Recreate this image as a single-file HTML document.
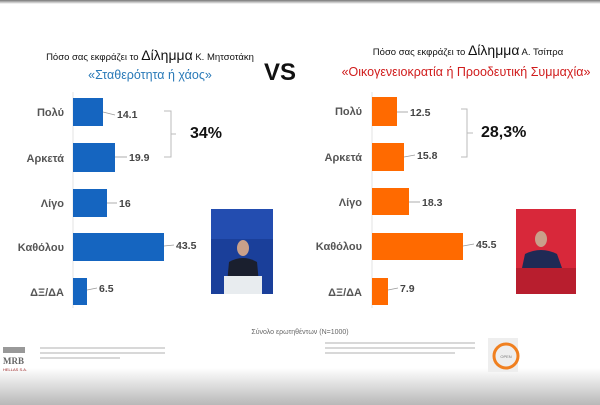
<!DOCTYPE html>
<html><head><meta charset="utf-8"><style>
html,body{margin:0;padding:0;background:#fff;}
body{width:600px;height:405px;overflow:hidden;position:relative;font-family:"Liberation Sans","DejaVu Sans",sans-serif;}
svg{position:absolute;left:0;top:0}
</style></head><body>
<svg width="600" height="405" viewBox="0 0 600 405" font-family="Liberation Sans, DejaVu Sans, sans-serif">
<defs>
<linearGradient id="bg" x1="0" y1="0" x2="0" y2="1">
<stop offset="0" stop-color="#ffffff"/><stop offset="1" stop-color="#b8b8b8"/></linearGradient>
<linearGradient id="top" x1="0" y1="0" x2="0" y2="1">
<stop offset="0" stop-color="#777"/><stop offset="1" stop-color="#fff"/></linearGradient>
</defs>
<rect x="0" y="0" width="600" height="4" fill="url(#top)"/>
<rect x="0" y="368" width="600" height="37" fill="url(#bg)"/>

<!-- Left titles -->
<text x="150" y="60" font-size="9.5" text-anchor="middle" fill="#111">Πόσο σας εκφράζει το <tspan font-size="14">Δίλημμα</tspan> Κ. Μητσοτάκη</text>
<text x="150" y="79" font-size="12.5" text-anchor="middle" fill="#2a7ab8">«Σταθερότητα ή χάος»</text>
<text x="280" y="80" font-size="24" font-weight="bold" text-anchor="middle" fill="#111">VS</text>
<!-- Right titles -->
<text x="468" y="55" font-size="9.5" text-anchor="middle" fill="#111">Πόσο σας εκφράζει το <tspan font-size="14">Δίλημμα</tspan> Α. Τσίπρα</text>
<text x="466" y="76" font-size="12.5" text-anchor="middle" fill="#d01c1c">«Οικογενειοκρατία ή Προοδευτική Συμμαχία»</text>

<g font-size="11" font-weight="bold" fill="#555" text-anchor="end">
<text x="64" y="116">Πολύ</text><text x="64" y="162">Αρκετά</text><text x="64" y="207">Λίγο</text><text x="64" y="251">Καθόλου</text><text x="64" y="296">ΔΞ/ΔΑ</text>
<text x="362" y="115">Πολύ</text><text x="362" y="161">Αρκετά</text><text x="362" y="206">Λίγο</text><text x="362" y="250">Καθόλου</text><text x="362" y="296">ΔΞ/ΔΑ</text>
</g>
<line x1="73" y1="92" x2="73" y2="308" stroke="#e3e3e3"/>
<line x1="372" y1="92" x2="372" y2="308" stroke="#e3e3e3"/>
<g fill="#1565c0">
<rect x="73" y="98" width="30" height="28"/><rect x="73" y="143" width="42" height="29"/><rect x="73" y="189" width="34" height="28"/><rect x="73" y="233" width="91" height="28"/><rect x="73" y="278" width="14" height="27"/>
</g>
<g fill="#ff6a00">
<rect x="372" y="97" width="25" height="29"/><rect x="372" y="143" width="32" height="28"/><rect x="372" y="188" width="37" height="27"/><rect x="372" y="233" width="91" height="27"/><rect x="372" y="278" width="16" height="27"/>
</g>
<g stroke="#999" stroke-width="0.8">
<line x1="103" y1="112" x2="115" y2="115"/><line x1="115" y1="157" x2="127" y2="157"/><line x1="107" y1="203" x2="117" y2="203"/><line x1="164" y1="246" x2="174" y2="245"/><line x1="87" y1="290" x2="97" y2="288"/>
<line x1="397" y1="112" x2="408" y2="112"/><line x1="404" y1="157" x2="415" y2="155"/><line x1="409" y1="202" x2="420" y2="202"/><line x1="463" y1="246" x2="474" y2="244"/><line x1="388" y1="290" x2="398" y2="288"/>
</g>
<g font-size="10.5" font-weight="bold" fill="#444">
<text x="117" y="118">14.1</text><text x="129" y="161">19.9</text><text x="119" y="207">16</text><text x="176" y="249">43.5</text><text x="99" y="292">6.5</text>
<text x="410" y="116">12.5</text><text x="417" y="159">15.8</text><text x="422" y="206">18.3</text><text x="476" y="248">45.5</text><text x="400" y="292">7.9</text>
</g>
<path d="M164 111 H171 V157 H164 M171 134 H176" fill="none" stroke="#bbb"/>
<path d="M461 109 H467 V157 H461 M467 133 H473" fill="none" stroke="#bbb"/>
<text x="190" y="138" font-size="16" font-weight="bold" fill="#111">34%</text>
<text x="481" y="137" font-size="16" font-weight="bold" fill="#111">28,3%</text>

<!-- left photo -->
<rect x="211" y="209" width="62" height="85" fill="#1a3f9a"/>
<rect x="211" y="209" width="62" height="30" fill="#2a56c0" opacity="0.6"/>
<ellipse cx="243" cy="248" rx="6" ry="8" fill="#c9a08a"/>
<path d="M226 294 L229 262 Q243 254 257 262 L260 294Z" fill="#1a1f2e"/>
<rect x="224" y="276" width="38" height="18" fill="#e8ecef"/>
<!-- right photo -->
<rect x="516" y="209" width="60" height="85" fill="#d8283a"/>
<ellipse cx="541" cy="239" rx="6" ry="8" fill="#c9a08a"/>
<path d="M522 268 L525 254 Q541 246 557 254 L562 268Z" fill="#1f2a55"/>
<rect x="516" y="268" width="60" height="26" fill="#b81e2e"/>

<text x="300" y="334" font-size="7" text-anchor="middle" fill="#666">Σύνολο ερωτηθέντων (Ν=1000)</text>
<!-- MRB logo -->
<rect x="3" y="347" width="22" height="6" fill="#999"/>
<text x="3" y="364" font-size="9" font-weight="bold" fill="#666" font-family="Liberation Serif, serif">MRB</text>
<text x="3" y="371" font-size="4" fill="#922">HELLAS S.A.</text>
<g stroke="#ccc" stroke-width="1.5">
<line x1="40" y1="348" x2="165" y2="348"/><line x1="40" y1="353" x2="165" y2="353"/><line x1="40" y1="358" x2="120" y2="358"/>
<line x1="325" y1="343" x2="475" y2="343"/><line x1="325" y1="348" x2="475" y2="348"/><line x1="325" y1="353" x2="455" y2="353"/>
</g>
<rect x="488" y="338" width="30" height="34" fill="#eee"/>
<circle cx="506" cy="356" r="12" fill="none" stroke="#f08020" stroke-width="3"/>
<text x="506" y="358" font-size="4" text-anchor="middle" fill="#777">OPEN</text>
</svg>
</body></html>
